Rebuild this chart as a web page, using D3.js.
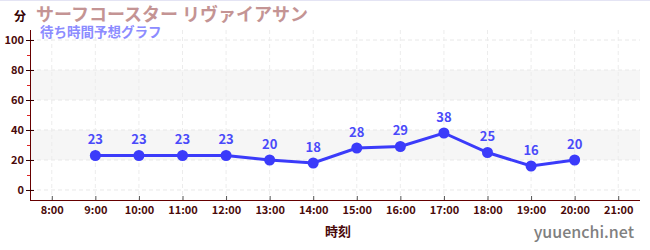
<!DOCTYPE html>
<html>
<head>
<meta charset="utf-8">
<script src="https://cdn.jsdelivr.net/npm/d3@7"></script>
<style>
  body { margin: 0; background: #fff; }
  svg { display: block; font-family: "Noto Sans CJK JP", "Noto Sans", sans-serif; }
</style>
</head>
<body>
<svg width="650" height="250"></svg>
<script>
var hours = [9, 10, 11, 12, 13, 14, 15, 16, 17, 18, 19, 20];
var waits = [23, 23, 23, 23, 20, 18, 28, 29, 38, 25, 16, 20];
var xTicks = [8, 9, 10, 11, 12, 13, 14, 15, 16, 17, 18, 19, 20, 21];
var yTicks = [0, 20, 40, 60, 80, 100];
var yMinor = [10, 30, 50, 70, 90];
var bands = [[20, 40], [60, 80]];

var width = 650, height = 250;
var svg = d3.select('svg');

var x = d3.scaleLinear().domain([7.5, 21.5]).range([30, 640]);
var y = d3.scaleLinear().domain([-6.67, 106.67]).range([200, 30]);

// top border
svg.append('line')
  .attr('x1', 0).attr('x2', width).attr('y1', 0.5).attr('y2', 0.5)
  .attr('stroke', '#e4e4f4');

// shaded bands
svg.selectAll('.band').data(bands).enter().append('rect')
  .attr('x', x(7.5)).attr('width', x(21.5) - x(7.5))
  .attr('y', d => y(d[1])).attr('height', d => y(d[0]) - y(d[1]))
  .attr('fill', '#f6f6f6');

// grid
svg.selectAll('.hgrid').data(yTicks).enter().append('line')
  .attr('x1', x(7.5)).attr('x2', x(21.5))
  .attr('y1', d => y(d)).attr('y2', d => y(d))
  .attr('stroke', '#e8e8e8').attr('stroke-dasharray', '4,3');
svg.selectAll('.vgrid').data(xTicks).enter().append('line')
  .attr('x1', d => x(d)).attr('x2', d => x(d))
  .attr('y1', y(106.67)).attr('y2', y(-6.67))
  .attr('stroke', '#ececec').attr('stroke-dasharray', '4,3');

// axes
var yAxis = d3.axisLeft(y).tickValues(yTicks).tickSize(4).tickPadding(2);
var gy = svg.append('g').attr('transform', 'translate(30,0)').call(yAxis);
gy.select('.domain').attr('stroke', '#660000').attr('d', 'M0.5,30V200');
gy.selectAll('.tick line').attr('stroke', '#330000').attr('x2', 4).attr('x1', -4);
gy.selectAll('.tick text').attr('fill', '#4a0a0a').attr('font-size', 11).attr('font-weight', 600)
  .attr('font-family', '"Noto Sans CJK JP", sans-serif');

svg.append('g').selectAll('line').data(yMinor).enter().append('line')
  .attr('x1', 27).attr('x2', 30)
  .attr('y1', d => y(d) + 0.5).attr('y2', d => y(d) + 0.5)
  .attr('stroke', '#dd2222');

var xAxis = d3.axisBottom(x).tickValues(xTicks).tickFormat(d => d + ':00').tickSize(4).tickPadding(2);
var gx = svg.append('g').attr('transform', 'translate(0,200)').call(xAxis);
gx.select('.domain').attr('stroke', '#660000').attr('d', 'M30,0.5H640');
gx.selectAll('.tick line').attr('stroke', '#555').attr('y1', -4).attr('y2', 0);
gx.selectAll('.tick text').attr('fill', '#4a0a0a').attr('font-size', 11).attr('font-weight', 600)
  .attr('font-family', '"Noto Sans CJK JP", sans-serif');

// line + points
var line = d3.line().x((d, i) => x(hours[i])).y(d => y(d));
svg.append('path')
  .attr('d', line(waits))
  .attr('fill', 'none')
  .attr('stroke', '#3b3bfa')
  .attr('stroke-width', 3);

svg.selectAll('.dot').data(waits).enter().append('circle')
  .attr('cx', (d, i) => x(hours[i])).attr('cy', d => y(d))
  .attr('r', 5.5).attr('fill', '#3b3bfa');

svg.selectAll('.lbl').data(waits).enter().append('text')
  .attr('x', (d, i) => x(hours[i])).attr('y', d => y(d) - 11)
  .attr('text-anchor', 'middle')
  .attr('fill', '#4a4afa').attr('font-size', 13).attr('font-weight', 700)
  .text(d => d);

// titles
svg.append('text').attr('x', 14).attr('y', 21)
  .attr('fill', '#330000').attr('font-size', 12).attr('font-weight', 700).text('分');
svg.append('text').attr('x', 36).attr('y', 21)
  .attr('fill', '#c49494').attr('font-size', 18).attr('font-weight', 700)
  .text('サーフコースター リヴァイアサン');
svg.append('text').attr('x', 40).attr('y', 37)
  .attr('fill', '#8c8cff').attr('font-size', 13.5).attr('font-weight', 600)
  .text('待ち時間予想グラフ');
svg.append('text').attr('x', 338).attr('y', 236).attr('text-anchor', 'middle')
  .attr('fill', '#4a0a0a').attr('font-size', 13).attr('font-weight', 700).text('時刻');
svg.append('text').attr('x', 634).attr('y', 238).attr('text-anchor', 'end')
  .attr('fill', '#808080').attr('font-size', 16).attr('font-weight', 500)
  .text('yuuenchi.net');
</script>
</body>
</html>
